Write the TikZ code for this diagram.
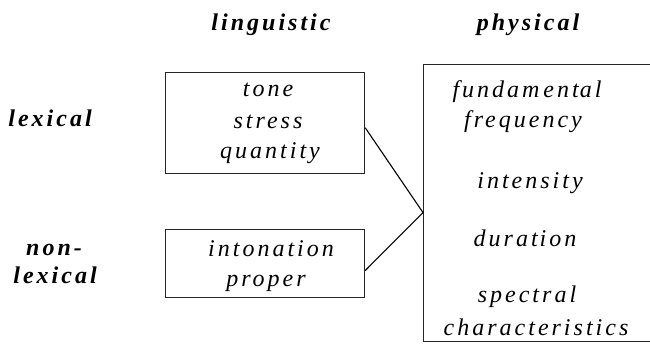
\documentclass[tikz,border=0pt]{standalone}
\usepackage{fontspec}
\setmainfont{Liberation Serif}
\newfontfamily\spc{Liberation Serif}[LetterSpace=12.5,
  UprightFont=*, BoldFont=* Bold, ItalicFont=* Italic, BoldItalicFont=* Bold Italic]
\usetikzlibrary{calc}
\begin{document}
\begin{tikzpicture}[x=1pt,y=-1pt,
  lbl/.style={inner sep=0pt, anchor=base, font=\spc\itshape\fontsize{24}{30}\selectfont},
  hdr/.style={inner sep=0pt, anchor=base, font=\spc\bfseries\itshape\fontsize{24}{30}\selectfont},
  frame/.style={draw=black!85, line width=1.2pt, inner sep=0pt, anchor=north west},
  link/.style={draw=black, line width=1.1pt}]
\useasboundingbox (0,0) rectangle (650,351);
% column headers
\node[hdr] (hling) at (271,30) {linguistic};
\node[hdr] (hphys) at (528,30) {physical};
% row headers
\node[hdr] (hlex) at (50,126) {lexical};
\node[hdr] (hnon) at (54,255) {non-};
\node[hdr] (hnonlex) at (55,283) {lexical};
% boxes
\node[frame, minimum width=199pt, minimum height=101pt] (b1) at (165,72) {};
\node[frame, minimum width=199pt, minimum height=68pt] (b2) at (165,229) {};
\node[frame, minimum width=226.5pt, minimum height=277pt] (p) at (423,64) {};
% box 1 text
\node[lbl] (tone) at (268,96) {tone};
\node[lbl] (stress) at (268,128) {stress};
\node[lbl] (quant) at (270,158) {quantity};
% box 2 text
\node[lbl] (inton) at (271,256) {intonation};
\node[lbl] (proper) at (266,286) {proper};
% physical text
\node[lbl] (fund) at (527,97) {fundam\kern4pt ent\kern1pt al};
\node[lbl] (freq) at (523,127) {frequency};
\node[lbl] (inten) at (530,188) {intensity};
\node[lbl] (dur) at (525,246) {durat\kern2pt ion};
\node[lbl] (spec) at (527,302) {spectral};
\node[lbl] (char) at (536,335) {characteristics};
% connectors
\coordinate (m) at ($(p.north west)!0.534!(p.south west)$);
\draw[link] ($(b1.north east)!0.545!(b1.south east)$) -- (m) -- ($(b2.north east)!0.6!(b2.south east)$);
\end{tikzpicture}
\end{document}
